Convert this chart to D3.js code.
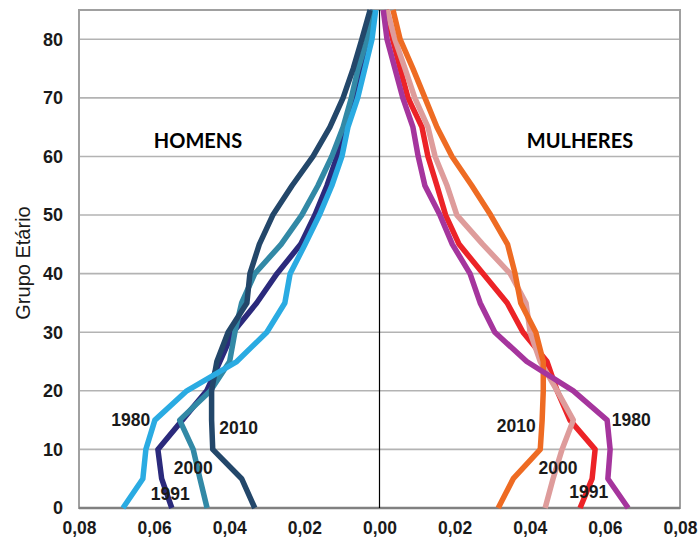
<!DOCTYPE html>
<html>
<head>
<meta charset="utf-8">
<script src="https://cdn.jsdelivr.net/npm/d3@7"></script>
<style>
  body { margin: 0; background: #fff; }
  text { font-family: "Liberation Sans", Arial, sans-serif; }
</style>
</head>
<body>
<div class="pyramid"></div>
<script>
// faixas etárias (eixo vertical)
const ages = [0, 5, 10, 15, 20, 25, 30, 35, 40, 45, 50, 55, 60, 65, 70, 75, 80, 85];
const years = ['1980', '1991', '2000', '2010'];

// proporção da população por idade - homens
const homens1980 = [0.0683, 0.0630, 0.0622, 0.0598, 0.0513, 0.0380, 0.0300, 0.0252, 0.0238, 0.0198, 0.0160, 0.0127, 0.0100, 0.0084, 0.0058, 0.0039, 0.0020, 0.0010];
const homens1991 = [0.0553, 0.0580, 0.0590, 0.0525, 0.0460, 0.0425, 0.0390, 0.0327, 0.0273, 0.0210, 0.0172, 0.0140, 0.0113, 0.0087, 0.0065, 0.0047, 0.0030, 0.0017];
const homens2000 = [0.0459, 0.0478, 0.0496, 0.0532, 0.0450, 0.0399, 0.0385, 0.0367, 0.0332, 0.0262, 0.0207, 0.0164, 0.0127, 0.0097, 0.0075, 0.0057, 0.0033, 0.0017];
const homens2010 = [0.0332, 0.0367, 0.0444, 0.0447, 0.0447, 0.0433, 0.0403, 0.0353, 0.0345, 0.0320, 0.0284, 0.0233, 0.0177, 0.0132, 0.0097, 0.0070, 0.0047, 0.0025];

// proporção da população por idade - mulheres
const mulheres1980 = [0.0662, 0.0608, 0.0614, 0.0606, 0.0516, 0.0392, 0.0307, 0.0268, 0.0241, 0.0194, 0.0161, 0.0121, 0.0103, 0.0089, 0.0062, 0.0041, 0.0020, 0.0010];
const mulheres1991 = [0.0534, 0.0566, 0.0574, 0.0507, 0.0473, 0.0446, 0.0382, 0.0340, 0.0276, 0.0212, 0.0176, 0.0153, 0.0129, 0.0113, 0.0076, 0.0055, 0.0035, 0.0018];
const mulheres2000 = [0.0441, 0.0462, 0.0486, 0.0516, 0.0473, 0.0428, 0.0401, 0.0390, 0.0348, 0.0275, 0.0206, 0.0180, 0.0148, 0.0129, 0.0094, 0.0068, 0.0041, 0.0020];
const mulheres2010 = [0.0316, 0.0356, 0.0428, 0.0433, 0.0436, 0.0436, 0.0416, 0.0376, 0.0361, 0.0341, 0.0296, 0.0246, 0.0193, 0.0153, 0.0121, 0.0089, 0.0055, 0.0036];

// ticks
const yTicks = [0, 10, 20, 30, 40, 50, 60, 70, 80];
const xTicks = [-0.08, -0.06, -0.04, -0.02, 0, 0.02, 0.04, 0.06, 0.08];

// rótulos dos anos: [ano, lado, valor, idade]
const rotulos = [
  ['1980', -1, 0.0662, 15], ['2010', -1, 0.0375, 13.7], ['2000', -1, 0.0496, 6.8], ['1991', -1, 0.0557, 2.4],
  ['1980', 1, 0.0670, 15], ['2010', 1, 0.0364, 14], ['2000', 1, 0.0475, 6.8], ['1991', 1, 0.0557, 2.7]
];

const homens = {'1980': homens1980, '1991': homens1991, '2000': homens2000, '2010': homens2010};
const mulheres = {'1980': mulheres1980, '1991': mulheres1991, '2000': mulheres2000, '2010': mulheres2010};
const corHomens = {'1980': '#2aabe2', '1991': '#2b2a7c', '2000': '#3289a6', '2010': '#23476a'};
const corMulheres = {'1980': '#a5359d', '1991': '#ec2327', '2000': '#de9c9b', '2010': '#ee6b23'};
const ordem = ['1991', '2000', '2010', '1980'];

function setupCanvas() {
  const svg_width = 699, svg_height = 540;
  const left = 79, right = 680, top = 10, bottom = 508;

  const svg = d3.select('.pyramid').append('svg')
    .attr('width', svg_width).attr('height', svg_height);

  const xScale = d3.scaleLinear().domain([-0.08, 0.08]).range([left, right]);
  const yScale = d3.scaleLinear().domain([0, 85]).range([bottom, top]);

  // grade horizontal
  svg.append('g').selectAll('line').data(yTicks.filter(d => d > 0)).join('line')
    .attr('x1', left).attr('x2', right)
    .attr('y1', d => yScale(d)).attr('y2', d => yScale(d))
    .attr('stroke', '#b3b3b3').attr('stroke-width', 1.6);

  // moldura
  svg.append('rect').attr('x', left).attr('y', top)
    .attr('width', right - left).attr('height', bottom - top)
    .attr('fill', 'none').attr('stroke', '#a0a0a0').attr('stroke-width', 2);
  svg.append('line').attr('x1', left).attr('x2', right)
    .attr('y1', bottom).attr('y2', bottom)
    .attr('stroke', '#808080').attr('stroke-width', 2.5);

  // eixo zero
  svg.append('line').attr('x1', xScale(0)).attr('x2', xScale(0))
    .attr('y1', top).attr('y2', bottom)
    .attr('stroke', '#000').attr('stroke-width', 1.2);

  // eixos
  const yAxis = d3.axisLeft(yScale).tickValues(yTicks).tickSize(0).tickPadding(16)
    .tickFormat(d3.format('d'));
  const yAxisDraw = svg.append('g').attr('transform', `translate(${left},0)`).call(yAxis);
  const xAxis = d3.axisBottom(xScale).tickValues(xTicks).tickSize(0).tickPadding(14)
    .tickFormat(d => d3.format('.2f')(Math.abs(d)).replace('.', ','));
  const xAxisDraw = svg.append('g').attr('transform', `translate(0,${bottom})`).call(xAxis);
  [yAxisDraw, xAxisDraw].forEach(a => {
    a.select('.domain').remove();
    a.selectAll('text').style('font-size', '18px').style('font-weight', 'bold').style('fill', '#1a1a1a');
  });
  xAxisDraw.selectAll('text').style('font-size', '17.5px');

  svg.append('text')
    .attr('transform', `translate(30,${(top + bottom) / 2 + 4}) rotate(-90)`)
    .attr('text-anchor', 'middle')
    .style('font-size', '20px').style('fill', '#1a1a1a')
    .text('Grupo Etário');

  // linhas
  const line = side => d3.line()
    .x(d => xScale(side * d[1]))
    .y(d => yScale(d[0]));

  ordem.forEach(ano => {
    svg.append('path').datum(ages.map((a, i) => [a, homens[ano][i]]))
      .attr('d', line(-1)).attr('fill', 'none')
      .attr('stroke', corHomens[ano]).attr('stroke-width', 5.5)
      .attr('stroke-linejoin', 'round');
  });
  ordem.forEach(ano => {
    svg.append('path').datum(ages.map((a, i) => [a, mulheres[ano][i]]))
      .attr('d', line(1)).attr('fill', 'none')
      .attr('stroke', corMulheres[ano]).attr('stroke-width', 5.5)
      .attr('stroke-linejoin', 'round');
  });

  // títulos
  svg.append('text').attr('x', 198).attr('y', 148).attr('text-anchor', 'middle')
    .style('font-family', 'Lato, sans-serif')
    .style('font-size', '20px').style('font-weight', 'bold').text('HOMENS');
  svg.append('text').attr('x', 580).attr('y', 148).attr('text-anchor', 'middle')
    .style('font-family', 'Lato, sans-serif')
    .style('font-size', '20px').style('font-weight', 'bold').text('MULHERES');

  // rótulos dos anos
  svg.append('g').selectAll('text').data(rotulos).join('text')
    .attr('x', d => xScale(d[1] * d[2]))
    .attr('y', d => yScale(d[3]) + 6)
    .attr('text-anchor', 'middle')
    .style('font-size', '17.5px').style('font-weight', 'bold').style('fill', '#1a1a1a')
    .text(d => d[0]);
}

setupCanvas();
</script>
</body>
</html>
